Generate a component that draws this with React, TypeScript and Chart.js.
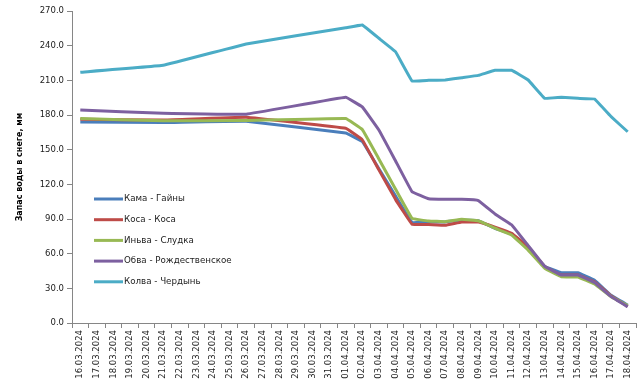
import React, { useEffect, useRef } from "react";
import { Chart, registerables } from "chart.js";

Chart.register(...registerables);

const categories = [
  "16.03.2024", "17.03.2024", "18.03.2024", "19.03.2024", "20.03.2024", "21.03.2024",
  "22.03.2024", "23.03.2024", "24.03.2024", "25.03.2024", "26.03.2024", "27.03.2024",
  "28.03.2024", "29.03.2024", "30.03.2024", "31.03.2024", "01.04.2024", "02.04.2024",
  "03.04.2024", "04.04.2024", "05.04.2024", "06.04.2024", "07.04.2024", "08.04.2024",
  "09.04.2024", "10.04.2024", "11.04.2024", "12.04.2024", "13.04.2024", "14.04.2024",
  "15.04.2024", "16.04.2024", "17.04.2024", "18.04.2024",
];

const n = null;

const kamaGainy = [
  174, n, n, n, n, 173.5, n, n, n, n, 174.5, n, n, n, n, n,
  164.5, 157, 133.5, 110, 87, 87.5, 87.5, 89, 88.5, 82, 77, 64, 49, 43.5, 43.5, 37, 24, 15.5,
];
const kosaKosa = [
  176.3, n, n, n, n, 175.7, n, n, n, n, 178, n, n, n, n, n,
  168.5, 158.5, 132.5, 107, 85.5, 85.3, 84.5, 87.4, 87.4, 83, 77.6, 66, 48.7, 41.5, 41.5, 35.7, 23.4, 14.5,
];
const invaSludka = [
  177, n, n, n, n, 175, n, n, n, n, 175.2, n, n, n, n, n,
  177, 167.5, 142, 116, 90.5, 88.3, 87.7, 89.7, 88.5, 82, 76.2, 63, 47.3, 40, 39.8, 33.7, 22.8, 15,
];
const obvaRozhd = [
  184.3, n, n, n, n, 181.5, n, n, n, n, 180.7, n, n, n, n, n,
  195.3, 187, 167, 140.4, 113.6, 107.5, 107, 107, 106, 94.3, 85, 67, 49, 41.5, 41.5, 35, 22.8, 14,
];
const kolvaCherdyn = [
  217, n, n, n, n, 223, n, n, n, n, 241.5, n, n, n, n, n,
  255.5, 257.9, 246.4, 234.8, 209.4, 210, 210.3, 212.3, 214.3, 218.7, 218.7, 210.3, 194.4, 195.3, 194.4, 193.8, 178.5, 165.5,
];

const seriesNames = [
  "Кама - Гайны",
  "Коса - Коса",
  "Иньва - Слудка",
  "Обва - Рождественское",
  "Колва - Чердынь",
];
const seriesColors = ["#4A7EBB", "#BE4B48", "#98B954", "#7D60A0", "#4BACC6"];
const seriesData = [kamaGainy, kosaKosa, invaSludka, obvaRozhd, kolvaCherdyn];

const yMin = 0;
const yMax = 270;
const yStep = 30;
const yTitle = "Запас воды в снеге, мм";

const FONT = '"DejaVu Sans", sans-serif';

const insideLegend = {
  id: "insideLegend",
  afterDraw(chart: any) {
    const { ctx, chartArea } = chart;
    const x0 = chartArea.left + 22;
    const y0 = chartArea.top + 188;
    const gap = 20.7;
    const lineLen = 29;
    ctx.save();
    chart.data.datasets.forEach((ds: any, i: number) => {
      const y = y0 + i * gap;
      ctx.strokeStyle = ds.borderColor;
      ctx.lineWidth = 3;
      ctx.beginPath();
      ctx.moveTo(x0, y);
      ctx.lineTo(x0 + lineLen, y);
      ctx.stroke();
      ctx.fillStyle = "#222";
      ctx.font = `8.7px ${FONT}`;
      ctx.textBaseline = "middle";
      ctx.textAlign = "left";
      ctx.fillText(ds.label, x0 + lineLen + 1, y);
    });
    ctx.restore();
  },
};

export default function App() {
  const ref = useRef<HTMLCanvasElement | null>(null);

  useEffect(() => {
    if (!ref.current) return;
    const chart = new Chart(ref.current, {
      type: "line",
      data: {
        labels: categories,
        datasets: seriesData.map((d, i) => ({
          label: seriesNames[i],
          data: d,
          borderColor: seriesColors[i],
          backgroundColor: seriesColors[i],
          borderWidth: 3,
          pointRadius: 0,
          pointHoverRadius: 0,
          tension: 0.05,
          spanGaps: true,
          fill: false,
          order: 5 - i,
        })),
      },
      options: {
        responsive: false,
        animation: false,
        layout: { padding: { top: 11, right: 2, left: 0, bottom: 0 } },
        plugins: {
          legend: { display: false },
          tooltip: { enabled: false },
          title: { display: false },
        },
        scales: {
          x: {
            type: "category",
            offset: true,
            grid: {
              display: true,
              drawOnChartArea: false,
              drawTicks: true,
              tickLength: 5,
              color: "#868686",
              offset: true,
            },
            border: { display: true, color: "#868686", width: 1 },
            ticks: {
              autoSkip: false,
              minRotation: 90,
              maxRotation: 90,
              padding: 2,
              color: "#222",
              font: { family: FONT, size: 8.5 },
            },
            afterFit(scale: any) {
              scale.height = 59;
              scale.paddingRight = 2;
            },
          },
          y: {
            type: "linear",
            min: yMin,
            max: yMax,
            grid: {
              display: true,
              drawOnChartArea: false,
              drawTicks: true,
              tickLength: 5,
              color: "#868686",
            },
            border: { display: true, color: "#868686", width: 1 },
            ticks: {
              stepSize: yStep,
              padding: 3,
              color: "#222",
              font: { family: FONT, size: 8.5 },
              callback: (v: any) => Number(v).toFixed(1),
            },
            title: {
              display: true,
              text: yTitle,
              color: "#000",
              font: { family: FONT, size: 8, weight: "bold" },
              padding: { top: 15, bottom: 0 },
            },
            afterFit(scale: any) {
              scale.width = 72;
            },
          },
        },
      },
      plugins: [insideLegend],
    });
    return () => chart.destroy();
  }, []);

  return (
    <div style={{ position: "fixed", left: 0, top: 0, width: 638, height: 382, background: "#fff" }}>
      <canvas ref={ref} width={638} height={382} style={{ display: "block", width: 638, height: 382 }} />
    </div>
  );
}
